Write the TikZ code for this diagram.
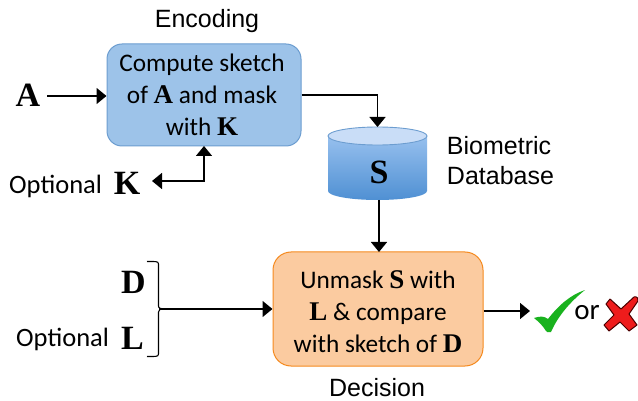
\documentclass[tikz,border=0pt]{standalone}
\usepackage{fontspec}
\setmainfont{Carlito}
\newfontfamily\arialf{Liberation Sans}
\newfontfamily\timesf{Liberation Serif}[BoldFont={Liberation Serif Bold}]
\usetikzlibrary{arrows.meta,calc}
\definecolor{bluefill}{HTML}{9DC3E9}
\definecolor{blueline}{HTML}{6C9DD0}
\definecolor{orfill}{HTML}{FBCBA0}
\definecolor{orline}{HTML}{F58A1F}
\definecolor{cyltop}{HTML}{C9DDF7}
\definecolor{cylhi}{HTML}{97C0EE}
\definecolor{cyllo}{HTML}{4F90D3}
\definecolor{chk}{HTML}{19B21E}
\definecolor{crs}{HTML}{EE1C1C}
\newcommand{\bb}[1]{{\timesf\bfseries\fontsize{27}{32}\selectfont #1}}
\tikzset{
  x=1pt,y=-1pt,
  boxtext/.style={font=\fontsize{25.3}{32}\selectfont,align=center,text=black,inner sep=0pt},
  labelsans/.style={font=\arialf\fontsize{25}{30}\selectfont,align=left,inner sep=0pt,text=black},
  labelcal/.style={font=\fontsize{26.5}{30}\selectfont,inner sep=0pt,text=black},
  sym/.style={font=\timesf\bfseries\fontsize{34}{34}\selectfont,inner sep=0pt,text=black},
  conn/.style={draw=black,line width=1.4pt,-{Triangle[length=10pt,width=16pt]}},
  bluebox/.style={draw=blueline,fill=bluefill,line width=1pt,rounded corners=15pt,minimum width=194pt,minimum height=102pt,inner sep=0pt},
  orbox/.style={draw=orline,fill=orfill,line width=1pt,rounded corners=18pt,minimum width=210pt,minimum height=114pt,inner sep=0pt},
}
\begin{document}
\begin{tikzpicture}
\useasboundingbox (0,0) rectangle (638,401);
\fill[white] (0,0) rectangle (638,401);
% cylinder
\path[top color=cylhi,bottom color=cyllo,draw=none] (328,136) -- (328,191) arc[start angle=180,end angle=360,x radius=49.5,y radius=-9] -- (427,136) -- cycle;
\draw[draw=blueline,fill=cyltop,line width=0.9pt] (377.5,136) ellipse[x radius=49.5,y radius=9];
\coordinate (cyltopc) at (377.5,127);
\coordinate (cylbot) at (379,200);
\node[sym] (S) at (379,172) {S};
% boxes
\node[bluebox] (enc) at (204,95) {};
\node[boxtext] (enctext) at (202,95) {Compute sketch\\of \bb{A} and mask\\with \bb{K}};
\node[orbox] (dec) at (378,309) {};
\node[boxtext] (dectext) at (378,312) {Unmask \bb{S} with\\\bb{L} \& compare\\with sketch of \bb{D}};
% labels
\node[labelsans] (encl) at (207,21) {Encoding};
\node[labelsans] (dbl) at (500.5,161) {Biometric\\Database};
\node[labelsans] (decl) at (377,388) {Decision};
\node[sym] (A) at (28,95) {A};
\node[labelcal,anchor=west] (optk) at (9,186) {Optional};
\node[sym] (K) at (127,183) {K};
\node[sym] (D) at (133.5,282) {D};
\node[labelcal,anchor=west] (optl) at (16,339) {Optional};
\node[sym] (L) at (132.5,338) {L};
\node[labelcal,font=\fontsize{29}{30}\selectfont] (or) at (587,313) {or};
% connectors
\draw[conn] (47,96) -- (enc.west |- 47,96);
\draw[draw=black,line width=1.4pt,{Triangle[length=10pt,width=16pt]}-{Triangle[length=10pt,width=16pt]}] (152,181) -| (204,146);
\draw[conn] (enc.east |- 0,95) -| (cyltopc);
\draw[conn] (cylbot) -- (379,252);
\coordinate (brk) at (159,309);
\draw[line width=1.1pt,black] (147,261.5) .. controls (155,261.5) and (158.5,261) .. (158.5,264) -- (158.5,306) .. controls (158.5,308.5) and (160,309) .. (170,309);
\draw[line width=1.1pt,black] (147,356.5) .. controls (155,356.5) and (158.5,357) .. (158.5,354) -- (158.5,312) .. controls (158.5,309.5) and (160,309) .. (164,309);
\draw[conn] (brk) -- (dec.west |- brk);
\draw[conn] (dec.east |- 0,311) -- (530,311);
% check
\fill[chk] (534,318) .. controls (540,316) and (544,316) .. (548,319) .. controls (558,306) and (570,295) .. (585,290) .. controls (570,302) and (558,316) .. (551,332) .. controls (548,332) and (547,333) .. (546,331) .. controls (543,326) and (539,322) .. (534,318) -- cycle;
% cross
\begin{scope}[shift={(622,315)}]
\draw[draw=black!70!red,fill=crs,line width=1pt,line join=round]
 (-12,-16) -- (-1,-6) -- (12,-18) .. controls (15,-19) and (17,-16) .. (16,-14)
 -- (7,-1) -- (15,10) -- (7,16) -- (-2,7) -- (-13,16) -- (-18,10) -- (-8,0) -- (-16,-11) -- cycle;
\end{scope}
\end{tikzpicture}
\end{document}
